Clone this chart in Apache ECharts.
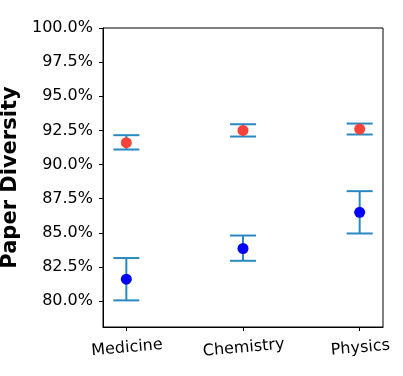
<!DOCTYPE html>
<html lang="en">
<head>
<meta charset="UTF-8" />
<title>Paper Diversity</title>
<script src="https://cdn.jsdelivr.net/npm/echarts@6/dist/echarts.min.js"></script>
<style>
  html, body { margin: 0; padding: 0; background: #fff; }
  #main { width: 403px; height: 376px; }
</style>
</head>
<body>
<div id="main"></div>
<script type="text/javascript">
// data
var categories = ['Medicine', 'Chemistry', 'Physics'];
var redMean  = [91.6, 92.5, 92.6];
var redLow   = [91.1, 92.05, 92.2];
var redHigh  = [92.15, 92.95, 93.0];
var blueMean = [81.6, 83.85, 86.5];
var blueLow  = [80.05, 82.95, 84.95];
var blueHigh = [83.15, 84.8, 88.05];
var yTicks = [80, 82.5, 85, 87.5, 90, 92.5, 95, 97.5, 100];

var font = 'DejaVu Sans';
var barColor = '#2a88c0';

function pts(vals) {
  return vals.map(function (v, i) { return [i, v]; });
}
function bars(low, high) {
  return low.map(function (v, i) { return [i, v, high[i]]; });
}

// error bar: stem plus two caps
function renderBar(params, api) {
  var lo = api.coord([api.value(0), api.value(1)]);
  var hi = api.coord([api.value(0), api.value(2)]);
  var hw = 13;
  var st = { stroke: barColor, lineWidth: 2 };
  return {
    type: 'group',
    children: [
      { type: 'line', shape: { x1: lo[0], y1: lo[1], x2: hi[0], y2: hi[1] }, style: st },
      { type: 'line', shape: { x1: lo[0] - hw, y1: lo[1], x2: lo[0] + hw, y2: lo[1] }, style: st },
      { type: 'line', shape: { x1: hi[0] - hw, y1: hi[1], x2: hi[0] + hw, y2: hi[1] }, style: st }
    ]
  };
}

var myChart = echarts.init(document.getElementById('main'));
var option = {
  animation: false,
  grid: {
    left: 103, right: 20, top: 28, bottom: 49,
    outerBoundsMode: 'none',
    containLabel: false,
    show: true, borderColor: '#000', borderWidth: 1
  },
  xAxis: {
    type: 'value',
    min: -0.2, max: 2.2,
    splitLine: { show: false },
    axisLine: { show: true, onZero: false, lineStyle: { color: '#000', width: 1 } },
    axisTick: { show: true, customValues: [0, 1, 2], length: 4, lineStyle: { color: '#000' } },
    axisLabel: {
      customValues: [0, 1, 2],
      rotate: 5,
      align: 'center',
      verticalAlign: 'top',
      margin: 13,
      fontFamily: font, fontSize: 16, color: '#000',
      formatter: function (v) { return categories[Math.round(v)]; }
    }
  },
  yAxis: {
    type: 'value',
    min: 78.1, max: 100,
    name: 'Paper Diversity',
    nameLocation: 'middle',
    nameGap: 76,
    nameTextStyle: { fontFamily: font, fontSize: 21, fontWeight: 'bold', color: '#000' },
    splitLine: { show: false },
    axisLine: { show: true, onZero: false, lineStyle: { color: '#000', width: 1 } },
    axisTick: { show: true, customValues: yTicks, length: 4, lineStyle: { color: '#000' } },
    axisLabel: {
      customValues: yTicks,
      margin: 10,
      fontFamily: font, fontSize: 16, color: '#000',
      formatter: function (v) { return v.toFixed(1) + '%'; }
    }
  },
  series: [
    { type: 'custom', renderItem: renderBar, data: bars(redLow, redHigh), z: 1 },
    { type: 'custom', renderItem: renderBar, data: bars(blueLow, blueHigh), z: 1 },
    { type: 'scatter', data: pts(redMean), symbolSize: 11, itemStyle: { color: '#f8433a', opacity: 1 }, z: 5 },
    { type: 'scatter', data: pts(blueMean), symbolSize: 11, itemStyle: { color: '#0000ff', opacity: 1 }, z: 5 }
  ]
};
myChart.setOption(option);
</script>
</body>
</html>
